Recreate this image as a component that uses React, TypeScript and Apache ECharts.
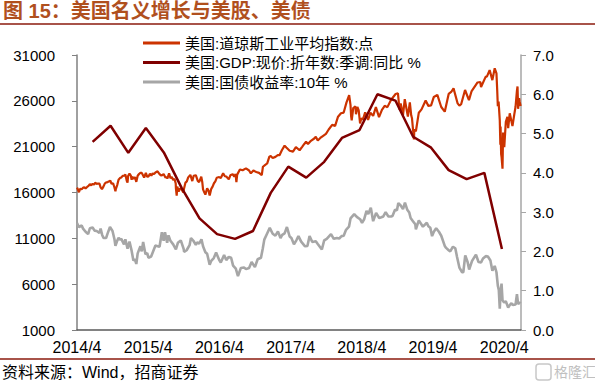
import React, { useEffect, useRef } from 'react';
import * as echarts from 'echarts';

const FONT = "'Liberation Sans', 'Noto Sans CJK SC', sans-serif";

const titleText = '图 15：美国名义增长与美股、美债';
const sourceText = '资料来源：Wind，招商证券';
const seriesNames = ['美国:道琼斯工业平均指数:点', '美国:GDP:现价:折年数:季调:同比 %', '美国:国债收益率:10年 %'];

const xTickYears = [2014, 2015, 2016, 2017, 2018, 2019, 2020];
const xTickLabels = ['2014/4', '2015/4', '2016/4', '2017/4', '2018/4', '2019/4', '2020/4'];

const dowDates = [
  '2014-04-01','2014-04-04','2014-04-11','2014-04-17','2014-04-25','2014-05-02','2014-05-09','2014-05-15','2014-05-23','2014-05-30',
  '2014-06-06','2014-06-13','2014-06-20','2014-06-27','2014-07-03','2014-07-11','2014-07-17','2014-07-25','2014-07-31','2014-08-07',
  '2014-08-15','2014-08-22','2014-08-29','2014-09-05','2014-09-19','2014-09-25','2014-10-03','2014-10-10','2014-10-15','2014-10-17',
  '2014-10-24','2014-10-31','2014-11-07','2014-11-14','2014-11-21','2014-11-28','2014-12-05','2014-12-12','2014-12-16','2014-12-19',
  '2014-12-26','2015-01-02','2015-01-06','2015-01-09','2015-01-16','2015-01-23','2015-01-30','2015-02-06','2015-02-13','2015-02-20',
  '2015-02-27','2015-03-06','2015-03-11','2015-03-20','2015-03-27','2015-04-03','2015-04-10','2015-04-17','2015-04-24','2015-05-01',
  '2015-05-08','2015-05-19','2015-05-29','2015-06-05','2015-06-12','2015-06-19','2015-06-29','2015-07-03','2015-07-08','2015-07-17',
  '2015-07-24','2015-07-31','2015-08-07','2015-08-14','2015-08-20','2015-08-21','2015-08-25','2015-08-28','2015-09-04','2015-09-11',
  '2015-09-18','2015-09-28','2015-10-02','2015-10-09','2015-10-16','2015-10-23','2015-11-03','2015-11-13','2015-11-20','2015-12-01',
  '2015-12-11','2015-12-18','2015-12-29','2016-01-04','2016-01-08','2016-01-15','2016-01-20','2016-01-29','2016-02-05','2016-02-11',
  '2016-02-19','2016-02-26','2016-03-04','2016-03-11','2016-03-18','2016-03-31','2016-04-08','2016-04-20','2016-04-29','2016-05-06',
  '2016-05-19','2016-05-27','2016-06-08','2016-06-16','2016-06-23','2016-06-27','2016-07-01','2016-07-15','2016-07-29','2016-08-15',
  '2016-08-31','2016-09-09','2016-09-22','2016-10-07','2016-10-21','2016-11-04','2016-11-10','2016-11-22','2016-12-02','2016-12-13',
  '2016-12-20','2016-12-30','2017-01-13','2017-01-25','2017-02-03','2017-02-15','2017-03-01','2017-03-10','2017-03-27','2017-04-13',
  '2017-04-28','2017-05-17','2017-05-31','2017-06-09','2017-06-19','2017-06-29','2017-07-14','2017-07-31','2017-08-08','2017-08-18',
  '2017-08-31','2017-09-13','2017-09-29','2017-10-13','2017-10-31','2017-11-15','2017-11-30','2017-12-15','2017-12-29','2018-01-12',
  '2018-01-26','2018-02-02','2018-02-05','2018-02-08','2018-02-16','2018-02-27','2018-03-02','2018-03-09','2018-03-16','2018-03-23',
  '2018-03-29','2018-04-06','2018-04-18','2018-05-03','2018-05-15','2018-05-29','2018-06-12','2018-06-28','2018-07-13','2018-07-27',
  '2018-08-10','2018-08-29','2018-09-21','2018-10-03','2018-10-11','2018-10-17','2018-10-29','2018-11-07','2018-11-23','2018-12-03',
  '2018-12-10','2018-12-14','2018-12-24','2018-12-26','2019-01-03','2019-01-18','2019-02-01','2019-02-22','2019-03-08','2019-03-22',
  '2019-04-05','2019-04-23','2019-05-13','2019-05-31','2019-06-20','2019-07-03','2019-07-15','2019-08-05','2019-08-14','2019-08-23',
  '2019-09-12','2019-10-02','2019-10-15','2019-11-15','2019-11-29','2019-12-03','2019-12-27','2020-01-03','2020-01-17','2020-01-31',
  '2020-02-12','2020-02-21','2020-02-25','2020-02-28','2020-03-03','2020-03-09','2020-03-12','2020-03-13','2020-03-16','2020-03-18',
  '2020-03-23','2020-03-26','2020-04-01','2020-04-09','2020-04-17','2020-04-21','2020-04-29','2020-05-13','2020-05-22','2020-05-29',
  '2020-06-05','2020-06-08','2020-06-11','2020-06-16','2020-06-19','2020-06-24'
];
const dowValues = [
  16532,16412,16027,16409,16361,16513,16583,16447,16606,16717,
  16924,16776,16947,16851,17068,16944,16977,16961,16563,16368,
  16663,17001,17098,17138,17280,16946,17010,16544,16142,16380,
  16805,17391,17573,17635,17810,17828,17959,17281,17068,17805,
  18053,17833,17372,17737,17512,17673,17165,17825,18019,18140,
  18133,17857,17635,18128,17713,17763,18058,17826,18081,18024,
  18191,18312,18011,17849,17899,18016,17596,17730,17515,18086,
  17568,17690,17373,17477,16991,16460,15666,16643,16102,16433,
  16385,16001,16472,17084,17216,17647,17918,17245,17824,17888,
  17265,17128,17720,17149,16346,15988,15766,16466,16205,15660,
  16392,16640,17007,17213,17602,17685,17577,18096,17774,17740,
  17435,17873,18005,17733,18011,17140,17949,18516,18432,18636,
  18400,18085,18392,18240,18145,17888,18807,19023,19170,19911,
  19974,19763,19885,20068,20071,20611,21115,20903,20550,20453,
  20941,20607,21009,21272,21528,21287,21638,21891,22085,21675,
  21948,22158,22405,22871,23377,23271,24272,24651,24719,25803,
  26616,25521,24346,23860,25219,25410,24538,25336,24946,23533,
  24103,23933,24748,23930,24706,24361,25320,24216,25019,25451,
  25313,26124,26743,26828,25052,25706,24443,26180,24286,25826,
  24423,24100,21792,22878,22686,24706,25064,26031,25450,25502,
  26425,26656,25324,24815,26753,26966,27359,25717,25479,25628,
  27182,26078,27024,28004,28051,27502,28645,28634,29348,28256,
  29551,28992,27081,25409,25917,23851,21200,23185,20189,19899,
  18592,22552,20943,23719,24242,23019,24634,23248,24465,25383,
  27111,27572,25128,26290,25871,25445
];

const gdpDates = [
  '2014-06-20','2014-09-20','2014-12-20','2015-03-20','2015-06-20','2015-09-20','2015-12-20','2016-03-20',
  '2016-06-20','2016-09-20','2016-12-20','2017-03-20','2017-06-20','2017-09-20','2017-12-20','2018-03-20',
  '2018-06-20','2018-09-20','2018-12-20','2019-03-20','2019-06-20','2019-09-20','2019-12-20','2020-03-20'
];
const gdpValues = [
  4.79, 5.2, 4.51, 5.14, 4.52, 3.61, 2.84, 2.44,
  2.32, 2.52, 3.49, 4.16, 3.88, 4.28, 4.89, 5.09,
  6.0, 5.84, 4.92, 4.65, 4.07, 3.84, 4.0, 2.06
];

const yieldDates = [
  '2014-04-01','2014-04-11','2014-04-25','2014-05-02','2014-05-15','2014-05-28','2014-06-06','2014-06-20','2014-06-30','2014-07-11',
  '2014-07-25','2014-07-31','2014-08-08','2014-08-15','2014-08-28','2014-09-05','2014-09-17','2014-09-30','2014-10-10','2014-10-15',
  '2014-10-24','2014-10-31','2014-11-07','2014-11-14','2014-11-28','2014-12-05','2014-12-16','2014-12-26','2015-01-05','2015-01-15',
  '2015-01-23','2015-01-30','2015-02-06','2015-02-20','2015-02-27','2015-03-06','2015-03-18','2015-03-27','2015-04-02','2015-04-16',
  '2015-04-30','2015-05-08','2015-05-15','2015-05-29','2015-06-10','2015-06-19','2015-06-26','2015-07-07','2015-07-14','2015-07-24',
  '2015-08-07','2015-08-21','2015-08-31','2015-09-15','2015-09-30','2015-10-02','2015-10-15','2015-10-30','2015-11-06','2015-11-20',
  '2015-12-01','2015-12-08','2015-12-18','2015-12-30','2016-01-08','2016-01-20','2016-01-29','2016-02-11','2016-02-19','2016-03-03',
  '2016-03-15','2016-03-31','2016-04-08','2016-04-25','2016-05-06','2016-05-19','2016-05-31','2016-06-10','2016-06-24','2016-07-05',
  '2016-07-08','2016-07-20','2016-08-05','2016-08-15','2016-08-31','2016-09-13','2016-09-30','2016-10-14','2016-10-31','2016-11-09',
  '2016-11-17','2016-12-01','2016-12-15','2016-12-30','2017-01-13','2017-01-26','2017-02-08','2017-02-17','2017-03-01','2017-03-13',
  '2017-03-27','2017-04-05','2017-04-18','2017-05-01','2017-05-11','2017-05-25','2017-06-14','2017-06-26','2017-07-07','2017-07-21',
  '2017-08-08','2017-08-18','2017-09-08','2017-09-20','2017-10-03','2017-10-25','2017-11-08','2017-11-24','2017-12-06','2017-12-18',
  '2017-12-29','2018-01-10','2018-01-25','2018-02-02','2018-02-21','2018-03-06','2018-03-23','2018-04-02','2018-04-13','2018-04-25',
  '2018-05-04','2018-05-17','2018-05-29','2018-06-13','2018-06-29','2018-07-10','2018-07-20','2018-08-01','2018-08-15','2018-08-29',
  '2018-09-05','2018-09-18','2018-09-28','2018-10-05','2018-10-17','2018-10-29','2018-11-08','2018-11-20','2018-11-30','2018-12-07',
  '2018-12-19','2018-12-31','2019-01-03','2019-01-18','2019-01-30','2019-02-08','2019-02-28','2019-03-08','2019-03-18','2019-03-27',
  '2019-04-05','2019-04-17','2019-05-01','2019-05-13','2019-05-31','2019-06-07','2019-06-20','2019-06-28','2019-07-12','2019-07-24',
  '2019-08-02','2019-08-14','2019-08-28','2019-09-03','2019-09-13','2019-09-25','2019-10-03','2019-10-18','2019-11-07','2019-11-20',
  '2019-12-03','2019-12-13','2019-12-27','2020-01-08','2020-01-21','2020-01-31','2020-02-12','2020-02-21','2020-02-28','2020-03-04',
  '2020-03-09','2020-03-13','2020-03-18','2020-03-23','2020-03-31','2020-04-09','2020-04-21','2020-04-30','2020-05-08','2020-05-15',
  '2020-05-29','2020-06-05','2020-06-11','2020-06-19','2020-06-24'
];
const yieldValues = [
  2.72,2.62,2.66,2.58,2.5,2.44,2.59,2.61,2.53,2.52,
  2.47,2.58,2.42,2.34,2.34,2.46,2.62,2.52,2.31,2.14,
  2.27,2.35,2.3,2.32,2.18,2.31,2.07,2.25,2.04,1.77,
  1.8,1.68,1.95,2.13,2.0,2.24,1.93,1.96,1.84,1.87,
  2.05,2.15,2.14,2.12,2.49,2.27,2.49,2.22,2.41,2.27,
  2.18,2.05,2.22,2.28,2.06,1.99,2.03,2.16,2.34,2.26,
  2.17,2.23,2.2,2.31,2.13,1.98,1.94,1.66,1.76,1.83,
  1.97,1.78,1.72,1.91,1.78,1.86,1.84,1.64,1.56,1.37,
  1.37,1.58,1.59,1.55,1.58,1.73,1.6,1.8,1.84,2.07,
  2.3,2.45,2.6,2.45,2.4,2.51,2.34,2.42,2.46,2.62,
  2.38,2.34,2.18,2.29,2.39,2.25,2.13,2.14,2.39,2.24,
  2.26,2.19,2.05,2.28,2.32,2.44,2.32,2.34,2.33,2.39,
  2.4,2.55,2.63,2.84,2.95,2.88,2.82,2.73,2.82,3.03,
  2.95,3.11,2.77,2.98,2.85,2.87,2.89,3.0,2.89,2.89,
  2.9,3.06,3.05,3.23,3.17,3.08,3.24,3.06,2.99,2.85,
  2.77,2.69,2.56,2.79,2.7,2.63,2.73,2.64,2.6,2.39,
  2.5,2.59,2.5,2.4,2.14,2.09,2.03,2.0,2.12,2.08,
  1.86,1.59,1.47,1.47,1.9,1.73,1.54,1.76,1.92,1.73,
  1.72,1.82,1.88,1.87,1.77,1.51,1.63,1.47,1.13,1.02,
  0.54,0.94,1.18,0.76,0.7,0.73,0.57,0.64,0.68,0.64,
  0.65,0.91,0.66,0.7,0.68
];

// fractional years counted from April 1 of each year
function toT(s: string): number {
  const [y, m, d] = s.split('-').map(Number);
  return y + (Date.UTC(y, m - 1, d) - Date.UTC(y, 3, 1)) / (365 * 86400000);
}
const pairs = (dates: string[], vals: number[]) => dates.map((d, i) => [toT(d), vals[i]]);

export default function App() {
  const ref = useRef<HTMLDivElement>(null);
  useEffect(() => {
    if (!ref.current) return;
    const chart = echarts.init(ref.current, undefined, { renderer: 'svg' });
    chart.setOption({
      animation: false,
      backgroundColor: '#ffffff',
      textStyle: { fontFamily: FONT },
      grid: { left: 77, right: 74, top: 55, bottom: 53, containLabel: false, outerBoundsMode: 'none' },
      legend: {
        orient: 'vertical',
        left: 143,
        top: 35.5,
        padding: 0,
        itemGap: 4.5,
        itemWidth: 37,
        itemHeight: 3,
        icon: 'rect',
        data: seriesNames,
        textStyle: { fontSize: 15, lineHeight: 15, color: '#000', fontFamily: FONT },
      },
      xAxis: {
        type: 'value',
        min: 2014,
        max: 2020.235,
        interval: 1,
        splitLine: { show: false },
        axisLine: { show: true, lineStyle: { color: '#595959', width: 1.5 } },
        axisTick: { show: false },
        axisLabel: {
          fontSize: 16,
          color: '#000',
          margin: 9,
          showMaxLabel: false,
          fontFamily: FONT,
          formatter: (v: number) => {
            const i = xTickYears.indexOf(Math.round(v));
            return i >= 0 && Math.abs(v - Math.round(v)) < 1e-6 ? xTickLabels[i] : '';
          },
        },
      },
      yAxis: [
        {
          type: 'value',
          position: 'left',
          min: 1000,
          max: 31000,
          interval: 5000,
          splitLine: { show: false },
          axisLine: { show: true, lineStyle: { color: '#808080', width: 1.5 } },
          axisTick: { show: true, length: 5, lineStyle: { color: '#808080' } },
          axisLabel: { fontSize: 15, color: '#000', margin: 22, fontFamily: FONT, formatter: (v: number) => String(Math.round(v)) },
        },
        {
          type: 'value',
          position: 'right',
          min: 0,
          max: 7,
          interval: 1,
          splitLine: { show: false },
          axisLine: { show: true, lineStyle: { color: '#a6a6a6', width: 1.5 } },
          axisTick: { show: true, length: 5, lineStyle: { color: '#a6a6a6' } },
          axisLabel: { fontSize: 15, color: '#000', margin: 12, fontFamily: FONT, formatter: (v: number) => v.toFixed(1) },
        },
      ],
      series: [
        {
          name: seriesNames[0],
          type: 'line',
          yAxisIndex: 0,
          data: pairs(dowDates, dowValues),
          showSymbol: false,
          symbol: 'none',
          color: '#cc3300',
          lineStyle: { color: '#cc3300', width: 2.2 },
        },
        {
          name: seriesNames[1],
          type: 'line',
          yAxisIndex: 1,
          data: pairs(gdpDates, gdpValues),
          showSymbol: false,
          symbol: 'none',
          color: '#800000',
          lineStyle: { color: '#800000', width: 2.5 },
        },
        {
          name: seriesNames[2],
          type: 'line',
          yAxisIndex: 1,
          data: pairs(yieldDates, yieldValues),
          showSymbol: false,
          symbol: 'none',
          color: '#a6a6a6',
          lineStyle: { color: '#a6a6a6', width: 2.6 },
        },
      ],
      graphic: [
        {
          type: 'text',
          style: { x: 3, y: 11, text: titleText, fontSize: 20, fontWeight: 'bold', fill: '#b0501e', fontFamily: FONT, verticalAlign: 'middle' },
        },
        { type: 'line', shape: { x1: 0, y1: 24, x2: 595, y2: 24 }, style: { stroke: '#8b1a0e', lineWidth: 1.5 } },
        { type: 'line', shape: { x1: 0, y1: 359, x2: 595, y2: 359 }, style: { stroke: '#8b1a0e', lineWidth: 1.5 } },
        {
          type: 'text',
          style: { x: 2, y: 372, text: sourceText, fontSize: 16, fill: '#000', fontFamily: FONT, verticalAlign: 'middle' },
        },
        {
          type: 'rect',
          shape: { x: 536, y: 364, width: 15, height: 16, r: 3 },
          style: { fill: 'none', stroke: '#c8c8c8', lineWidth: 1.5 },
        },
        {
          type: 'text',
          style: { x: 554, y: 372, text: '格隆汇', fontSize: 14, fill: '#c0c0c0', fontFamily: FONT, verticalAlign: 'middle' },
        },
      ],
    });
    return () => chart.dispose();
  }, []);
  return <div ref={ref} style={{ position: 'absolute', left: 0, top: 0, width: 595, height: 383 }} />;
}
